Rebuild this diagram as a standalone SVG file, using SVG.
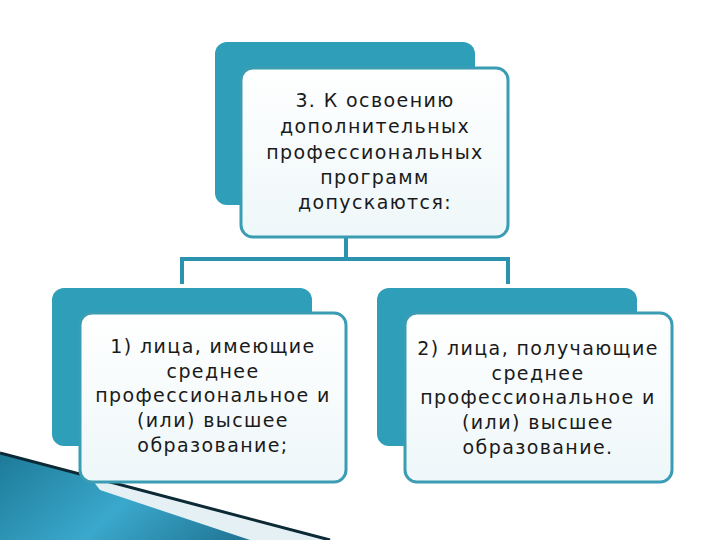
<svg xmlns="http://www.w3.org/2000/svg" width="720" height="540" viewBox="0 0 720 540">
<defs>
<linearGradient id="g" x1="0" y1="0" x2="1" y2="0.3"><stop offset="0" stop-color="#1d7a98"/><stop offset="0.5" stop-color="#3aa8cc"/><stop offset="1" stop-color="#1e6f8e"/></linearGradient>
<linearGradient id="f" x1="0" y1="0" x2="0" y2="1"><stop offset="0" stop-color="#ffffff"/><stop offset="1" stop-color="#eef7f9"/></linearGradient>
</defs>
<style>
.back{fill:#2f9fb9}
.front{fill:url(#f);stroke:#3b9db3;stroke-width:3}
.t{font-family:"DejaVu Sans",sans-serif;font-size:19px;letter-spacing:1.4px;fill:#1a1a1a;text-anchor:middle}
.c{stroke:#2a93ad;stroke-width:4;fill:none}
</style>
<rect width="720" height="540" fill="#fff"/>
<polygon points="0,453 330,540 0,540" fill="url(#g)"/>
<polygon points="90,477 330,540 250,540 100,490" fill="#e4f0f4"/>
<line x1="0" y1="453" x2="330" y2="540" stroke="#0c2a36" stroke-width="3"/>
<g id="connectors">
<path class="c" d="M346,237V259M182,259H508M182,257V284M508,257V284"/>
</g>
<g id="top">
<rect class="back" x="215" y="42" width="260" height="163" rx="12"/>
<rect class="front" x="241" y="68" width="267" height="169" rx="12"/>
<text class="t"><tspan x="375" y="107">3. К освоению</tspan><tspan x="375" y="133">дополнительных</tspan><tspan x="375" y="159">профессиональных</tspan><tspan x="375" y="184">программ</tspan><tspan x="375" y="209">допускаются:</tspan></text>
</g>
<g id="left">
<rect class="back" x="52" y="288" width="260" height="158" rx="12"/>
<rect class="front" x="80" y="313" width="266" height="169" rx="12"/>
<text class="t"><tspan x="213" y="353">1) лица, имеющие</tspan><tspan x="213" y="378">среднее</tspan><tspan x="213" y="402">профессиональное и</tspan><tspan x="213" y="427">(или) высшее</tspan><tspan x="213" y="452">образование;</tspan></text>
</g>
<g id="right">
<rect class="back" x="377" y="288" width="260" height="158" rx="12"/>
<rect class="front" x="405" y="313" width="267" height="169" rx="12"/>
<text class="t"><tspan x="538" y="355">2) лица, получающие</tspan><tspan x="538" y="380">среднее</tspan><tspan x="538" y="404">профессиональное и</tspan><tspan x="538" y="429">(или) высшее</tspan><tspan x="538" y="454">образование.</tspan></text>
</g>
</svg>
